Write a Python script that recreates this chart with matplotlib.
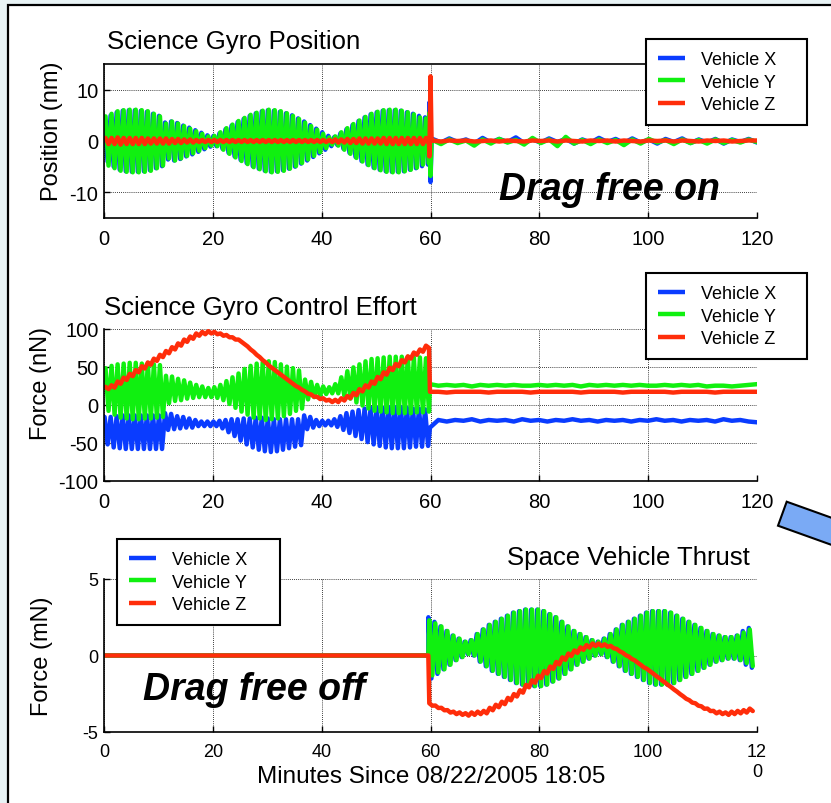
import numpy as np
import matplotlib
matplotlib.use('Agg')
import matplotlib.pyplot as plt
from matplotlib.patches import Rectangle, Polygon

plt.rcParams['font.family'] = ['Liberation Sans', 'DejaVu Sans']
plt.rcParams['axes.unicode_minus'] = False

W, H = 831, 804
PERIOD = 60 / 54  # minutes per oscillation cycle

BLUE = '#0a3cff'
GREEN = '#10f010'
RED = '#ff2d0a'
LW = 3.2

# ---- Science Gyro Position (nm): amplitude of each cycle, 0-60 min
pos_x_amp = [4.0, 5.0, 5.6, 5.9, 6.0, 6.0, 5.9, 5.7, 5.3, 4.9,
             3.6, 3.8, 3.5, 3.0, 2.6, 2.1, 1.6, 1.1, 1.0, 1.5,
             2.3, 3.0, 3.7, 4.3, 4.9, 5.4, 5.8, 6.0, 5.9, 5.7,
             5.4, 5.0, 4.4, 3.8, 3.1, 2.4, 1.7, 1.0, 0.8, 1.5,
             2.3, 3.1, 3.9, 4.6, 5.2, 5.6, 5.9, 6.0, 6.0, 5.9,
             5.6, 5.3, 4.9, 4.6]
pos_y_amp = [4.8, 5.3, 5.8, 6.0, 6.1, 6.1, 6.0, 5.8, 5.3, 4.8,
             3.4, 3.8, 3.4, 2.9, 2.4, 1.9, 1.4, 0.9, 1.0, 1.7,
             2.5, 3.2, 3.9, 4.5, 5.1, 5.5, 5.9, 6.1, 6.0, 5.8,
             5.4, 4.9, 4.3, 3.6, 2.9, 2.2, 1.4, 0.7, 0.9, 1.7,
             2.5, 3.3, 4.0, 4.7, 5.3, 5.7, 6.0, 6.1, 6.1, 5.9,
             5.6, 5.2, 4.6, 4.4]
pos_z_amp = [0.6, 0.6, 0.7, 0.6, 0.6, 0.6, 0.6, 0.5, 0.5, 0.5,
             0.5, 0.4, 0.4, 0.3, 0.3, 0.2, 0.2, 0.2, 0.2, 0.2,
             0.2, 0.2, 0.2, 0.2, 0.2, 0.2, 0.2, 0.2, 0.2, 0.2,
             0.2, 0.2, 0.2, 0.2, 0.2, 0.2, 0.2, 0.2, 0.3, 0.3,
             0.4, 0.4, 0.5, 0.5, 0.5, 0.5, 0.6, 0.6, 0.6, 0.6,
             0.6, 0.6, 0.6, 0.6]
# transient when drag free control switches on
pos_spike_t = [59.8, 60.0, 60.2]
pos_x_spike = [7.5, -8.0, 0.3]
pos_y_spike = [5.5, -6.8, 0.2]
pos_z_spike = [-3.0, 12.6, 0.0]
# residual after 60 min
pos_x_tail = [0.4, -0.3, 0.5, -0.2, 0.3, -0.5, 0.6, -0.3, 0.4, -0.2,
              0.7, -0.4, 0.3, -0.3, 0.5, -0.2, 0.4, -0.5, 0.3, -0.3,
              0.6, -0.2, 0.4, -0.4, 0.5, -0.3, 0.3, -0.5, 0.4, -0.2,
              0.5, -0.4, 0.3, -0.3, 0.4, -0.5, 0.3, -0.2, 0.4, -0.3]
pos_y_tail = [0.2, -0.6, 0.3, -0.4, 0.1, -0.9, 0.3, -0.5, 0.4, -0.3,
              0.2, -0.7, 0.6, -0.4, 0.3, -1.0, 0.8, -0.5, 0.2, -0.6,
              0.3, -0.4, 0.2, -0.8, 0.3, -0.5, 0.4, -0.3, 0.2, -0.6,
              0.3, -0.4, 0.2, -0.5, 0.3, -0.4, 0.2, -0.3, 0.3, -0.2]
pos_z_tail = [0.1, -0.1, 0.1, 0.0, 0.1, -0.1, 0.0, 0.1, -0.1, 0.1,
              0.0, -0.1, 0.1, 0.0, 0.1, -0.1, 0.1, 0.0, -0.1, 0.1,
              0.0, 0.1, -0.1, 0.1, 0.0, -0.1, 0.1, 0.0, 0.1, -0.1,
              0.1, 0.0, -0.1, 0.1, 0.0, 0.1, -0.1, 0.0, 0.1, 0.1]

# ---- Science Gyro Control Effort (nN): centre and amplitude per cycle
eff_x_mid = [-34, -36, -36, -36, -36, -36, -36, -36, -36, -36,
             -22, -22, -23, -23, -24, -24, -25, -25, -25, -26,
             -28, -30, -33, -35, -37, -38, -39, -40, -40, -39,
             -38, -37, -36, -23, -23, -24, -24, -24, -24, -24,
             -24, -25, -26, -27, -28, -29, -30, -30, -30, -30,
             -30, -30, -30, -30]
eff_x_amp = [18, 20, 21, 22, 22, 22, 22, 22, 22, 22,
             11, 10, 8, 7, 6, 4, 3, 3, 3, 5,
             8, 11, 14, 17, 19, 21, 22, 22, 21, 20,
             19, 18, 17, 9, 7, 4, 3, 3, 5, 9,
             13, 16, 19, 22, 24, 25, 26, 27, 27, 27,
             26, 25, 25, 24]
eff_y_mid = [20, 19, 18, 18, 18, 18, 18, 18, 18, 18,
             20, 21, 20, 20, 19, 18, 17, 16, 16, 16,
             16, 16, 16, 17, 17, 18, 18, 19, 19, 19,
             19, 20, 20, 20, 20, 19, 19, 19, 21, 24,
             26, 26, 26, 26, 26, 26, 26, 26, 26, 26,
             26, 26, 26, 26]
eff_y_amp = [28, 32, 35, 36, 37, 37, 36, 36, 35, 34,
             18, 16, 14, 12, 10, 8, 7, 6, 7, 10,
             15, 20, 25, 30, 34, 36, 38, 38, 37, 34,
             31, 28, 25, 13, 10, 7, 5, 4, 6, 12,
             18, 23, 27, 31, 34, 35, 36, 37, 37, 37,
             37, 36, 36, 35]
eff_z_mid = [22, 24, 29, 34, 39, 44, 49, 54, 59, 64,
             69, 74, 79, 84, 88, 92, 94, 95, 94, 92,
             90, 87, 84, 78, 71, 64, 57, 50, 44, 38,
             32, 26, 21, 16, 12, 9, 7, 5, 5, 7,
             10, 14, 19, 24, 29, 35, 41, 47, 52, 57,
             62, 67, 71, 76]
eff_z_wiggle = 1.5
eff_x_tail = [-30, -20, -22, -20, -21, -19, -22, -20, -21, -20,
              -22, -19, -21, -20, -22, -20, -21, -19, -21, -20,
              -22, -20, -21, -20, -22, -20, -21, -19, -21, -20,
              -22, -20, -21, -20, -22, -19, -21, -20, -22, -23]
eff_y_tail = [27, 25, 26, 25, 26, 24, 26, 25, 26, 25,
              26, 25, 25, 26, 25, 26, 25, 26, 24, 26,
              25, 26, 25, 26, 25, 26, 25, 25, 26, 25,
              26, 25, 26, 24, 25, 25, 24, 25, 26, 27]
eff_z_tail = [17, 17, 16, 17, 17, 17, 17, 16, 17, 17,
              17, 17, 16, 17, 17, 17, 17, 17, 16, 17,
              17, 17, 17, 16, 17, 17, 17, 17, 17, 16,
              17, 17, 17, 17, 16, 17, 17, 17, 17, 17]

# ---- Space Vehicle Thrust (mN)
thr_off_t = [0, 59.6]
thr_off = [0, 0]
thr_mid = 0.5
thr_x_amp = [2.0, 1.7, 1.4, 1.1, 0.8, 0.6, 0.4, 0.5, 0.9, 1.2,
             1.5, 1.7, 1.9, 2.1, 2.3, 2.4, 2.5, 2.5, 2.5, 2.4,
             2.2, 2.0, 1.7, 1.4, 1.1, 0.9, 0.7, 0.5, 0.4, 0.6,
             0.9, 1.2, 1.5, 1.7, 1.9, 2.1, 2.3, 2.4, 2.4, 2.4,
             2.3, 2.1, 1.9, 1.7, 1.5, 1.3, 1.1, 0.9, 0.8, 0.7,
             0.7, 0.8, 1.1, 1.3]
thr_y_amp = [1.8, 1.6, 1.4, 1.1, 0.8, 0.6, 0.4, 0.5, 0.9, 1.2,
             1.5, 1.7, 1.9, 2.1, 2.3, 2.4, 2.5, 2.5, 2.5, 2.4,
             2.2, 2.0, 1.7, 1.4, 1.1, 0.9, 0.7, 0.5, 0.4, 0.6,
             0.9, 1.2, 1.5, 1.7, 1.9, 2.1, 2.3, 2.4, 2.4, 2.4,
             2.3, 2.1, 1.9, 1.7, 1.5, 1.3, 1.1, 0.9, 0.8, 0.7,
             0.7, 0.8, 1.0, 1.2]
thr_z_mid = [-3.2, -3.35, -3.5, -3.65, -3.75, -3.8, -3.85, -3.8, -3.75, -3.7,
             -3.5, -3.3, -3.1, -2.85, -2.6, -2.35, -2.0, -1.7, -1.4, -1.1,
             -0.8, -0.5, -0.2, 0.05, 0.25, 0.45, 0.6, 0.7, 0.7, 0.65,
             0.55, 0.35, 0.1, -0.15, -0.4, -0.7, -0.95, -1.25, -1.55, -1.85,
             -2.15, -2.45, -2.75, -3.0, -3.2, -3.4, -3.55, -3.7, -3.75, -3.8,
             -3.75, -3.7, -3.65, -3.55]
thr_z_wiggle = 0.08

labels = ['Vehicle X', 'Vehicle Y', 'Vehicle Z']
x_ticks = [0, 20, 40, 60, 80, 100, 120]


def fx(px):
    return px / W


def fy(py):
    return 1 - py / H


def zigzag(start, mid, amp, shift=0.0):
    # one peak and one trough per oscillation cycle
    amp = np.atleast_1d(np.asarray(amp, float))
    mid = np.asarray(mid, float)
    n = max(amp.size, mid.size)
    amp = np.broadcast_to(amp, (n,))
    mid = np.broadcast_to(mid, (n,))
    k = np.arange(n)[:, None] + np.array([0.25, 0.75]) + shift
    t = start + k * PERIOD
    y = mid[:, None] + amp[:, None] * np.array([1.0, -1.0])
    return t.ravel(), y.ravel()


def join(*parts):
    t = np.concatenate([np.asarray(p[0], float) for p in parts])
    y = np.concatenate([np.asarray(p[1], float) for p in parts])
    return t, y


def draw(ax, t, y, color):
    return ax.plot(t, y, color=color, lw=LW, solid_joinstyle='round',
                   solid_capstyle='round')[0]


def style_axes(ax, ylim, yticks, tick_size=14.5):
    ax.set_xlim(0, 120)
    ax.set_ylim(*ylim)
    ax.set_xticks(x_ticks)
    ax.set_yticks(yticks)
    ax.grid(True, color='black', linestyle=(0, (1, 1.5)), linewidth=0.6)
    ax.set_axisbelow(True)
    ax.spines['right'].set_visible(False)
    for s in ['left', 'bottom', 'top']:
        ax.spines[s].set_linewidth(1.2)
    ax.tick_params(direction='in', length=4, width=1, labelsize=tick_size)
    ax.tick_params(axis='x', pad=8)
    ax.tick_params(axis='y', pad=4)


def add_legend(ax, handles, left, top, right):
    leg = ax.legend(handles, labels, loc='upper left', mode='expand',
                    bbox_to_anchor=(fx(left), fy(top) - 0.1, fx(right) - fx(left), 0.1),
                    bbox_transform=fig.transFigure,
                    borderaxespad=0, fontsize=13, fancybox=False, framealpha=1,
                    edgecolor='black', handlelength=1.5, handletextpad=0.85,
                    labelspacing=0.3, borderpad=0.68)
    leg.get_frame().set_linewidth(1.5)
    for line in leg.get_lines():
        line.set_linewidth(3.2)
        line.set_solid_capstyle('butt')
    return leg


fig = plt.figure(figsize=(W / 100, H / 100), dpi=100)
fig.patch.set_facecolor('#e8f3f5')
fig.add_artist(Rectangle((fx(8), -0.05), 1.0, fy(6) + 0.05, transform=fig.transFigure,
                         facecolor='white', edgecolor='black', linewidth=1.6, zorder=-10))

# ---------------- top: position
ax1 = fig.add_axes([fx(104), fy(219), fx(757) - fx(104), fy(65) - fy(219)])
tail_t = np.linspace(60.4, 120, len(pos_x_tail))
t, y = join(zigzag(0, 0, pos_x_amp, shift=-0.15), (pos_spike_t, pos_x_spike), (tail_t, pos_x_tail))
h1 = draw(ax1, t, y, BLUE)
t, y = join(zigzag(0, 0, pos_y_amp), (pos_spike_t, pos_y_spike), (tail_t, pos_y_tail))
h2 = draw(ax1, t, y, GREEN)
t, y = join(zigzag(0, 0, pos_z_amp), (pos_spike_t, pos_z_spike), (tail_t, pos_z_tail))
h3 = draw(ax1, t, y, RED)
style_axes(ax1, (-15, 15), [-10, 0, 10])
ax1.text(72.5, -9.3, 'Drag free on', fontsize=27, fontweight='bold', fontstyle='italic',
         ha='left', va='center')
add_legend(ax1, [h1, h2, h3], 646, 40, 807)

# ---------------- middle: control effort
ax2 = fig.add_axes([fx(104), fy(482), fx(757) - fx(104), fy(329.5) - fy(482)])
tail_t = np.linspace(59.9, 120, len(eff_x_tail))
t, y = join(zigzag(0, eff_x_mid, eff_x_amp, shift=-0.15), (tail_t, eff_x_tail))
h1 = draw(ax2, t, y, BLUE)
t, y = join(zigzag(0, eff_y_mid, eff_y_amp), (tail_t, eff_y_tail))
h2 = draw(ax2, t, y, GREEN)
t, y = join(zigzag(0, eff_z_mid, eff_z_wiggle), (tail_t, eff_z_tail))
h3 = draw(ax2, t, y, RED)
style_axes(ax2, (-100, 100), [-100, -50, 0, 50, 100])
ax2.spines['top'].set_visible(False)
add_legend(ax2, [h1, h2, h3], 646, 274, 807)

# ---------------- bottom: thrust
ax3 = fig.add_axes([fx(104), fy(733), fx(757) - fx(104), fy(580) - fy(733)])
t, y = join((thr_off_t, thr_off), zigzag(59.5, thr_mid, thr_x_amp, shift=-0.15))
h1 = draw(ax3, t, y, BLUE)
t, y = join((thr_off_t, thr_off), zigzag(59.5, thr_mid, thr_y_amp))
h2 = draw(ax3, t, y, GREEN)
t, y = join((thr_off_t, thr_off), zigzag(59.5, thr_z_mid, thr_z_wiggle))
h3 = draw(ax3, t, y, RED)
style_axes(ax3, (-5, 5), [-5, 0, 5], tick_size=13)
ax3.spines['top'].set_visible(False)
ax3.set_xticklabels(['0', '20', '40', '60', '80', '100', '12\n0'])
ax3.text(7.2, -2.2, 'Drag free off', fontsize=27, fontweight='bold', fontstyle='italic',
         ha='left', va='center')
add_legend(ax3, [h1, h2, h3], 117, 540, 280)

# titles and axis labels
fig.text(fx(107), fy(42), 'Science Gyro Position', fontsize=18.5, ha='left', va='center')
fig.text(fx(104), fy(308), 'Science Gyro Control Effort', fontsize=18.5, ha='left', va='center')
fig.text(fx(750), fy(558), 'Space Vehicle Thrust', fontsize=18.5, ha='right', va='center')
fig.text(fx(52), fy(131), 'Position (nm)', fontsize=17, rotation=90, ha='center', va='center')
fig.text(fx(41), fy(384), 'Force (nN)', fontsize=17, rotation=90, ha='center', va='center')
fig.text(fx(42), fy(656), 'Force (mN)', fontsize=17, rotation=90, ha='center', va='center')
fig.text(fx(431), fy(777), 'Minutes Since 08/22/2005 18:05', fontsize=17.5, ha='center', va='center')

# arrow pointing off to the right
d = np.array([53.0, 19.0]) / np.hypot(53.0, 19.0)
a = np.array([786.7, 502.7])
b = np.array([778.0, 526.7])
corners = [a, b, b + 120 * d, a + 120 * d]
fig.add_artist(Polygon([(fx(p[0]), fy(p[1])) for p in corners], closed=True,
                       transform=fig.transFigure, facecolor='#7aaaf5',
                       edgecolor='black', linewidth=1.5, zorder=5))

fig.savefig('out.png', dpi=100, facecolor=fig.get_facecolor())
